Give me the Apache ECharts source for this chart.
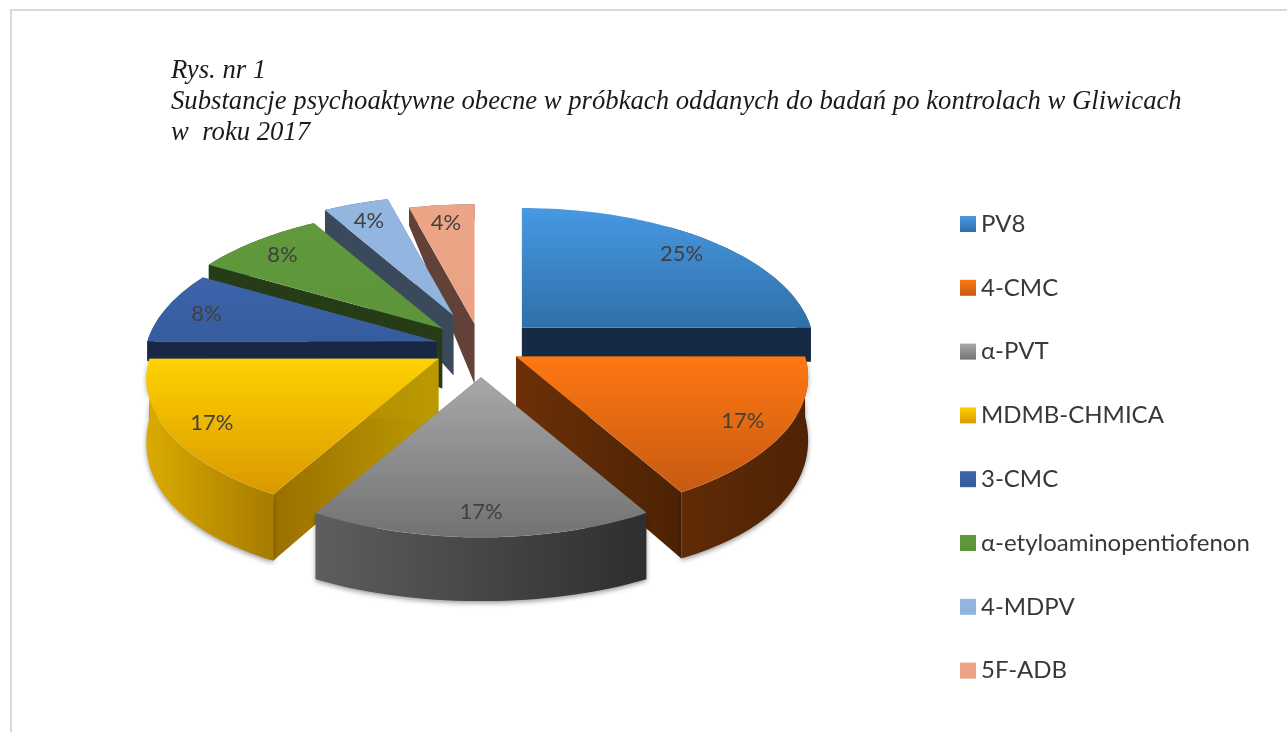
<!DOCTYPE html>
<html>
<head>
<meta charset="utf-8">
<style>
  html, body { margin: 0; padding: 0; background: #fff; }
  #plot { width: 1287px; height: 732px; }
</style>
<script src="https://cdn.jsdelivr.net/npm/echarts@6/dist/echarts.min.js"></script>
</head>
<body>
<div id="plot"></div>
<script>
// data
var categories = ['PV8', '4-CMC', 'α-PVT', 'MDMB-CHMICA', '3-CMC', 'α-etyloaminopentiofenon', '4-MDPV', '5F-ADB'];
var values = [6, 4, 4, 4, 2, 2, 1, 1];
var titleLines = [
  'Rys. nr 1',
  'Substancje psychoaktywne obecne w próbkach oddanych do badań po kontrolach w Gliwicach',
  'w  roku 2017'
];

// per slice look: top face gradient, side colour
var topColors = [
  ['#4799e2', '#2f6fa8'], ['#ff7812', '#c75a12'], ['#a8a8a8', '#727272'], ['#ffd200', '#d99800'],
  ['#3c64ab', '#365c9e'], ['#61993c', '#5c943a'], ['#93b7e1', '#90b4de'], ['#eda587', '#eba284']
];
var wallColors = [
  ['#162a44', '#162a44'], ['#602b07', '#4e2303'], ['#5e5e5e', '#2e2e2e'], ['#dcab00', '#a67b00'],
  ['#172744', '#172744'], ['#263c16', '#263c16'], ['#3a4a5c', '#3a4a5c'], ['#624238', '#624238']
];
var cutColors = [
  ['#162a44', '#162a44'], ['#6c3008', '#4c2203'], ['#555555', '#555555'], ['#9a7000', '#bb9a00'],
  ['#172744', '#172744'], ['#263c16', '#263c16'], ['#3a4a5c', '#3a4a5c'], ['#624238', '#624238']
];
// how far each slice is pulled out of the pie
var explode = [0.2, 0.14, 0.22, 0.17, 0.16, 0.19, 0.25, 0.17];
// painting order, back to front
var paintOrder = [7, 6, 5, 4, 0, 3, 1, 2];
// thickness at the apex, back slices only need enough to tuck under the next one
var thickness = [34, 60, 60, 60, 20, 60, 60, 60];

// projection of the tilted pie
var center = [481, 347];
var rx = 289;
var ry = 137;
var persp = 0.145;
var depthRy = 164;

var total = values.reduce(function (a, b) { return a + b; }, 0);

// start and end angles, clockwise from 12 o'clock
var angles = [];
var sum = 0;
values.forEach(function (v) {
  var start = sum / total * Math.PI * 2;
  sum += v;
  angles.push([start, sum / total * Math.PI * 2]);
});

function apexOf(i) {
  var mid = (angles[i][0] + angles[i][1]) / 2;
  return [
    center[0] + explode[i] * rx * Math.sin(mid),
    center[1] - explode[i] * ry * Math.cos(mid)
  ];
}

// point on the top face, t = 0 at the apex, t = 1 on the rim
function topPoint(apex, a, t) {
  var u = t * Math.sin(a);
  var v = -t * Math.cos(a);
  var s = 1 / (1 - persp * v);
  return [apex[0] + rx * u * s, apex[1] + ry * v * s];
}

function grad(c, vertical) {
  return {
    type: 'linear', x: 0, y: 0, x2: vertical ? 0 : 1, y2: vertical ? 1 : 0,
    colorStops: [{ offset: 0, color: c[0] }, { offset: 1, color: c[1] }]
  };
}

function renderSlice(i) {
  return function () {
    var apex = apexOf(i);
    var a0 = angles[i][0];
    var a1 = angles[i][1];

    // same point on the underside, never above the top face
    var under = function (a, t) {
      var p = topPoint(apex, a, t);
      return [p[0], Math.max(p[1], apex[1] + thickness[i] - depthRy * t * Math.cos(a))];
    };

    var topRim = [];
    var bottomRim = [];
    var n = Math.max(4, Math.ceil((a1 - a0) / 0.03));
    for (var k = 0; k <= n; k++) {
      var a = a0 + (a1 - a0) * k / n;
      topRim.push(topPoint(apex, a, 1));
      bottomRim.push(under(a, 1));
    }
    var apexBottom = under(a0, 0);

    var cutA = [apex, topRim[0], bottomRim[0], apexBottom];
    var cutB = [apex, topRim[n], bottomRim[n], apexBottom];
    var wall = topRim.concat(bottomRim.slice().reverse());
    var face = [apex].concat(topRim);
    var labelAt = topPoint(apex, (a0 + a1) / 2, 0.85);

    // only the slices facing the viewer throw a soft edge
    var wallStyle = { fill: grad(wallColors[i], false) };
    if (Math.cos(a1) < -0.01 || Math.cos(a0) < -0.01) {
      wallStyle.shadowBlur = 5;
      wallStyle.shadowColor = 'rgba(0,0,0,0.4)';
      wallStyle.shadowOffsetY = 2;
    }

    return {
      type: 'group',
      children: [
        { type: 'polygon', shape: { points: cutA }, style: { fill: grad(cutColors[i], false) } },
        { type: 'polygon', shape: { points: cutB }, style: { fill: grad(cutColors[i], false) } },
        { type: 'polygon', shape: { points: wall }, style: wallStyle },
        { type: 'polygon', shape: { points: face },
          style: { fill: grad(topColors[i], true), stroke: 'rgba(255,255,255,0.06)', lineWidth: 1 } },
        { type: 'text', x: labelAt[0], y: labelAt[1] + 2,
          style: {
            text: Math.round(values[i] / total * 100) + '%',
            fill: '#404040', font: '22px Lato', align: 'center', verticalAlign: 'middle'
          } }
      ]
    };
  };
}

var series = paintOrder.map(function (i, order) {
  return {
    name: categories[i],
    type: 'custom',
    coordinateSystem: 'none',
    z: 2 + order,
    silent: true,
    animation: false,
    itemStyle: { color: topColors[i][1] },
    data: [[values[i]]],
    renderItem: renderSlice(i)
  };
});

var myChart = echarts.init(document.getElementById('plot'));

var option = {
  backgroundColor: '#ffffff',
  animation: false,
  title: {
    text: titleLines.join('\n'),
    left: 166,
    top: 50,
    textStyle: {
      fontFamily: 'Liberation Serif',
      fontStyle: 'italic',
      fontWeight: 'normal',
      fontSize: 26.7,
      lineHeight: 31,
      color: '#1a1a1a'
    }
  },
  legend: {
    orient: 'vertical',
    left: 955,
    top: 207,
    itemWidth: 16,
    itemHeight: 16,
    itemGap: 39.8,
    data: categories.map(function (name, i) {
      return { name: name, icon: 'rect', itemStyle: { color: grad([topColors[i][0], topColors[i][1]], true) } };
    }),
    textStyle: { fontFamily: 'Lato', fontSize: 24, color: '#383838' },
    selectedMode: false
  },
  graphic: [{
    type: 'polyline',
    silent: true,
    shape: { points: [[11, 732], [11, 10], [1287, 10]] },
    style: { fill: null, stroke: '#d9d9d9', lineWidth: 2 }
  }],
  series: series
};

myChart.setOption(option);
</script>
</body>
</html>
